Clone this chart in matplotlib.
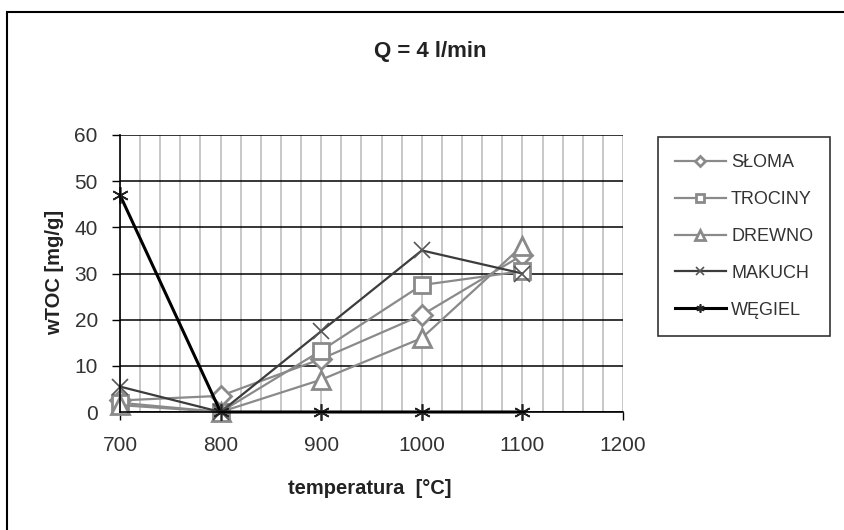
import matplotlib.pyplot as plt
from matplotlib.patches import Rectangle
from matplotlib.ticker import MultipleLocator

plt.rcParams['font.family'] = ['Liberation Sans', 'DejaVu Sans']

# dane
temperatura = [700, 800, 900, 1000, 1100]
sloma = [2.5, 3.5, 11.5, 21, 34]
trociny = [2, 0, 13.3, 27.5, 30.5]
drewno = [1.5, 0, 7, 16, 36]
makuch = [5.5, 0, 17.5, 35, 30]
wegiel = [47, 0, 0, 0, 0]

fig = plt.figure(figsize=(8.45, 5.30), dpi=100)
ax = fig.add_axes([120/845, 1-412/530, (623-120)/845, (412-135)/530])

gray = '#8a8a8a'
ax.plot(temperatura, sloma, color=gray, lw=1.6, marker='D', ms=10, mfc='white', mec=gray, mew=2, label='SŁOMA', clip_on=False)
ax.plot(temperatura, trociny, color=gray, lw=1.6, marker='s', ms=12, mfc='white', mec=gray, mew=2, label='TROCINY', clip_on=False)
ax.plot(temperatura, drewno, color=gray, lw=1.6, marker='^', ms=13, mfc='white', mec=gray, mew=2, label='DREWNO', clip_on=False)
ax.plot(temperatura, makuch, color='#3c3c3c', lw=1.6, marker='x', ms=11, mec='#555555', mew=1.2, label='MAKUCH', clip_on=False)
ax.plot(temperatura, wegiel, color='black', lw=2.2, marker=(6, 2, 0), ms=12, mec='#222222', mew=1.2, label='WĘGIEL', clip_on=False)

ax.set_xlim(700, 1200)
ax.set_ylim(0, 60)
ax.xaxis.set_major_locator(MultipleLocator(100))
ax.xaxis.set_minor_locator(MultipleLocator(20))
ax.yaxis.set_major_locator(MultipleLocator(10))
ax.grid(axis='x', which='both', color='#bdbdbd', lw=1.2)
ax.grid(axis='y', which='major', color='black', lw=1.1)
ax.set_axisbelow(True)
ax.tick_params(axis='both', which='major', direction='out', length=6, width=1, labelsize=15, colors='black', labelcolor='#333333')
ax.tick_params(axis='x', which='minor', length=0)
ax.tick_params(axis='x', pad=11)
ax.tick_params(axis='y', pad=10)
for s in ['top', 'right']:
    ax.spines[s].set_visible(False)
for s in ['left', 'bottom']:
    ax.spines[s].set_linewidth(1.2)

ax.set_xlabel('temperatura  [°C]', fontsize=14.5, fontweight='bold', color='#222222')
ax.xaxis.set_label_coords(370/845, 1-488/530, transform=fig.transFigure)
ax.set_ylabel('wTOC [mg/g]', fontsize=14.5, fontweight='bold', color='#222222')
ax.yaxis.set_label_coords(55/845, 1-272/530, transform=fig.transFigure)
for lab in (ax.xaxis.label, ax.yaxis.label):
    lab.set_va('center')
fig.text(430/845, 1-51/530, 'Q = 4 l/min', fontsize=16, fontweight='bold', ha='center', va='center', color='#222222')

leg = ax.legend(loc='upper left', bbox_to_anchor=(658/845, 1-137/530), bbox_transform=fig.transFigure,
                frameon=True, fancybox=False, edgecolor='black', fontsize=13, markerscale=0.5,
                handlelength=2.8, labelspacing=1.1, borderpad=0.95, handletextpad=0.3,
                borderaxespad=0)
leg.get_frame().set_linewidth(1.2)
for t in leg.get_texts():
    t.set_color('#333333')

# ramka wykresu
fig.patches.append(Rectangle((7/845, -0.05), 1.1, 1-12/530+0.05, transform=fig.transFigure,
                             fill=False, edgecolor='black', lw=1.5))

fig.savefig('out.png', dpi=100)
